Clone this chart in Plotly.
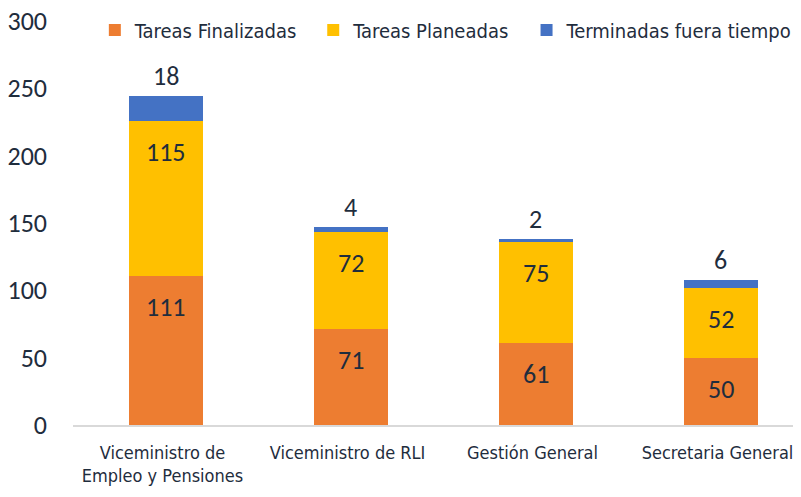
import plotly.graph_objects as go

categories = ["Viceministro de<br>Empleo y Pensiones", "Viceministro de RLI", "Gestión General", "Secretaria General"]
finalizadas = [111, 71, 61, 50]
planeadas = [115, 72, 75, 52]
fuera_tiempo = [18, 4, 2, 6]
y_ticks = [0, 50, 100, 150, 200, 250, 300]

series = [
    ("Tareas Finalizadas", finalizadas, "#ED7D31", "legend", 0.03),
    ("Tareas Planeadas", planeadas, "#FFC000", "legend2", 0.33),
    ("Terminadas fuera tiempo", fuera_tiempo, "#4472C4", "legend3", 0.623),
]

txt_color = "#1F2D3D"
narrow = "DejaVu Sans Condensed"
label_font = "Carlito, Calibri, Noto Sans, sans-serif"

fig = go.Figure()
legends = {}
annotations = []
base = [0] * len(categories)
for k, (name, vals, color, leg, lx) in enumerate(series):
    xs = list(range(len(categories)))
    fig.add_trace(go.Bar(
        name=name, x=xs, y=vals,
        marker=dict(color=color, line=dict(width=0)),
        width=0.4, legend=leg, showlegend=True,
        hoverinfo="name+y",
    ))
    top = [b + v for b, v in zip(base, vals)]
    last = k == len(series) - 1
    for xi, t, v in zip(xs, top, vals):
        annotations.append(dict(
            x=xi, y=t, xref="x", yref="y", text=str(v), showarrow=False,
            yanchor="middle", yshift=20 if last else -31,
            font=dict(family=label_font, size=26, color=txt_color),
        ))
    base = top
    legends[leg] = dict(orientation="h", x=lx, y=0.978, xanchor="left", yanchor="middle",
                        font=dict(family=narrow, size=20, color=txt_color),
                        bgcolor="rgba(0,0,0,0)", borderwidth=0, visible=True)

fig.update_layout(
    barmode="stack",
    width=801, height=497,
    showlegend=True,
    margin=dict(l=65, r=8, t=13, b=80, autoexpand=False),
    paper_bgcolor="white", plot_bgcolor="white",
    font=dict(family=narrow, size=20, color=txt_color),
    annotations=annotations,
    xaxis=dict(
        tickmode="array", tickvals=list(range(len(categories))), ticktext=categories,
        range=[-0.5, 3.435], showline=True, linecolor="#D9D9D9", linewidth=2,
        showgrid=False, ticks="", ticklabelstandoff=10, ticklabelshift=-3,
        zeroline=False, automargin=False, ticklabeloverflow="allow",
        tickfont=dict(family=narrow, size=18, color=txt_color),
    ),
    yaxis=dict(
        range=[0, 300], tickmode="array", tickvals=y_ticks,
        showgrid=False, zeroline=False, showline=False, ticks="", automargin=False,
        ticklabelstandoff=25, ticklabeloverflow="allow",
        tickfont=dict(family=label_font, size=26, color=txt_color),
    ),
    **legends,
)

fig.write_html("out.html")
